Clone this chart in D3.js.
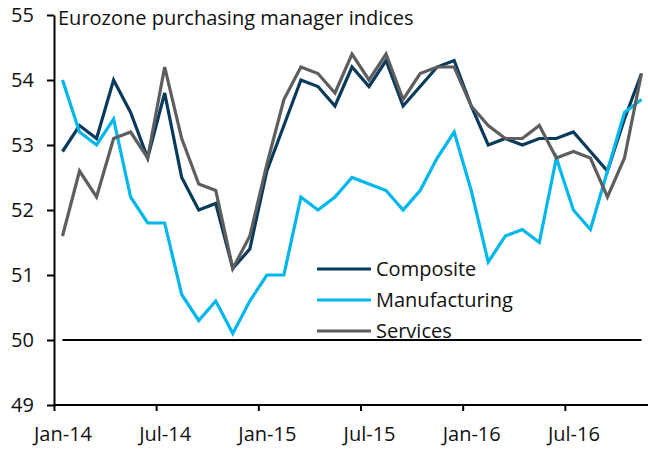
<!DOCTYPE html>
<html lang="en">
<head>
    <meta charset="UTF-8">
    <title>Eurozone PMI</title>
    <style>
        body { margin: 0; background: #fff; }
        svg text { font-family: "Open Sans", sans-serif; fill: #111; }
    </style>
</head>
<body>
    <div id="chart"></div>

    <script src="https://d3js.org/d3.v7.min.js"></script>
    <script>
        const months = ["Jan-14","Feb-14","Mar-14","Apr-14","May-14","Jun-14","Jul-14","Aug-14","Sep-14","Oct-14","Nov-14","Dec-14",
                        "Jan-15","Feb-15","Mar-15","Apr-15","May-15","Jun-15","Jul-15","Aug-15","Sep-15","Oct-15","Nov-15","Dec-15",
                        "Jan-16","Feb-16","Mar-16","Apr-16","May-16","Jun-16","Jul-16","Aug-16","Sep-16","Oct-16","Nov-16"];
        const tickLabels = ["Jan-14","Jul-14","Jan-15","Jul-15","Jan-16","Jul-16"];
        const yTicks = [49, 50, 51, 52, 53, 54, 55];

        const composite = [52.9,53.3,53.1,54.0,53.5,52.8,53.8,52.5,52.0,52.1,51.1,51.4,
                           52.6,53.3,54.0,53.9,53.6,54.2,53.9,54.3,53.6,53.9,54.2,54.3,
                           53.6,53.0,53.1,53.0,53.1,53.1,53.2,52.9,52.6,53.4,54.1];
        const manufacturing = [54.0,53.2,53.0,53.4,52.2,51.8,51.8,50.7,50.3,50.6,50.1,50.6,
                               51.0,51.0,52.2,52.0,52.2,52.5,52.4,52.3,52.0,52.3,52.8,53.2,
                               52.3,51.2,51.6,51.7,51.5,52.8,52.0,51.7,52.6,53.5,53.7];
        const services = [51.6,52.6,52.2,53.1,53.2,52.8,54.2,53.1,52.4,52.3,51.1,51.6,
                          52.7,53.7,54.2,54.1,53.8,54.4,54.0,54.4,53.7,54.1,54.2,54.2,
                          53.6,53.3,53.1,53.1,53.3,52.8,52.9,52.8,52.2,52.8,54.1];

        const seriesNames = ["Composite", "Manufacturing", "Services"];
        const seriesColors = ["#083a5c", "#00b7ec", "#5e5e5e"];
        const seriesData = [composite, manufacturing, services];

        const width = 648, height = 450;
        const svg = d3.select("#chart").append("svg")
            .attr("width", width)
            .attr("height", height);

        const x = d3.scalePoint().domain(months).range([62.5, 641.5]);
        const step = x.step();
        const y = d3.scaleLinear().domain([49, 55]).range([405, 15]);

        // 50 line
        svg.append("line")
            .attr("x1", x(months[0])).attr("x2", x(months[months.length - 1]))
            .attr("y1", y(50)).attr("y2", y(50))
            .attr("stroke", "#000").attr("stroke-width", 2);

        // x axis: ticks at month boundaries, labels at month centres
        const xAxis = svg.append("g")
            .attr("transform", `translate(0,${y(49)})`)
            .call(d3.axisBottom(x).tickValues(tickLabels).tickSize(6).tickPadding(16).tickSizeOuter(0));
        xAxis.select(".domain").remove();
        xAxis.selectAll(".tick line")
            .attr("transform", `translate(${-step / 2},0)`)
            .attr("stroke", "#000").attr("stroke-width", 2);
        xAxis.selectAll("text").style("font-size", "20px").attr("fill", "#111");
        svg.append("line")
            .attr("x1", x(months[0]) - step / 2).attr("x2", width + 2)
            .attr("y1", y(49)).attr("y2", y(49))
            .attr("stroke", "#000").attr("stroke-width", 2);

        // y axis
        const yAxis = svg.append("g")
            .attr("transform", `translate(${x(months[0]) - step / 2},0)`)
            .call(d3.axisLeft(y).tickValues(yTicks).tickFormat(d3.format("d")).tickSize(7).tickPadding(13).tickSizeOuter(0));
        yAxis.select(".domain").attr("stroke", "#000").attr("stroke-width", 2);
        yAxis.selectAll(".tick line").attr("stroke", "#000").attr("stroke-width", 2);
        yAxis.selectAll("text").style("font-size", "20px").attr("fill", "#111");

        // series
        const line = d3.line()
            .x((d, i) => x(months[i]))
            .y(d => y(d));

        seriesData.forEach((vals, k) => {
            svg.append("path")
                .datum(vals)
                .attr("d", line)
                .attr("fill", "none")
                .attr("stroke", seriesColors[k])
                .attr("stroke-width", 3.2);
        });

        // title
        svg.append("text")
            .attr("x", 58).attr("y", 25)
            .style("font-size", "20px")
            .text("Eurozone purchasing manager indices");

        // legend
        const legend = svg.append("g").attr("transform", "translate(317,269)");
        seriesNames.forEach((name, k) => {
            const g = legend.append("g").attr("transform", `translate(0,${k * 31})`);
            g.append("line")
                .attr("x1", 0).attr("x2", 54)
                .attr("stroke", seriesColors[k]).attr("stroke-width", 3.2);
            g.append("text")
                .attr("x", 59).attr("dy", "0.35em")
                .style("font-size", "20px")
                .text(name);
        });
    </script>
</body>
</html>
